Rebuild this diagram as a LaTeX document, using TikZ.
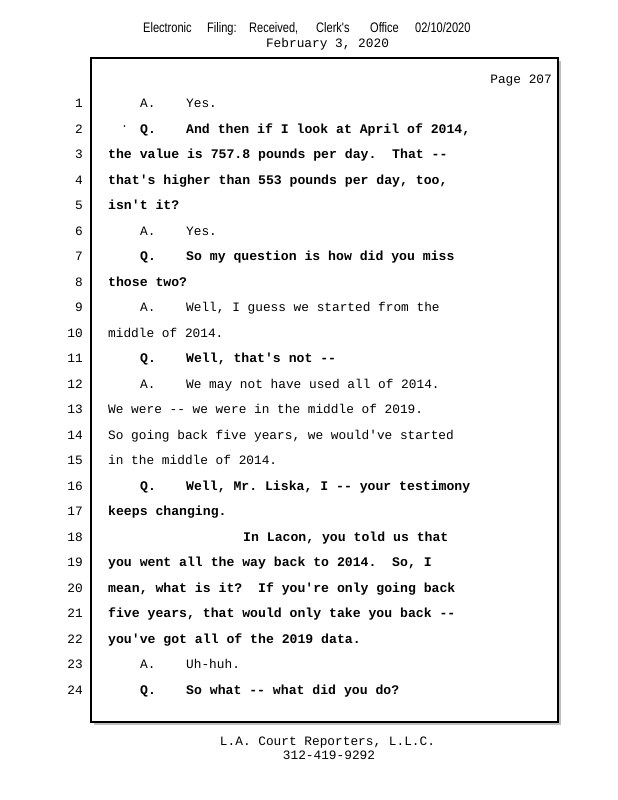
\documentclass[tikz,border=0pt]{standalone}
\usepackage{fontspec}
\setmonofont{Liberation Mono}
\newfontfamily\hdrfont[FakeStretch=0.8]{Liberation Sans}
\tikzset{
  reg/.style={font=\ttfamily\fontsize{12.8}{15}\selectfont, inner sep=0pt, anchor=base west},
  bld/.style={font=\ttfamily\bfseries\fontsize{13.15}{15}\selectfont, inner sep=0pt, anchor=base west},
  num/.style={font=\ttfamily\fontsize{12.8}{15}\selectfont, inner sep=0pt, anchor=base east},
  hdr/.style={font=\hdrfont\fontsize{13.8}{15}\selectfont, inner sep=0pt, anchor=base west},
}
\newcommand\lny[1]{{107.5+(#1-1)*25.52}}
\newcommand\tline[4]{\node[#3] (t#1x#2) at (#2,\lny{#1}) {#4};}
\begin{document}
\begin{tikzpicture}[x=1pt,y=-1pt]
\useasboundingbox (0,0) rectangle (618,800);
% header
\node[hdr] (h1) at (143,33) {Electronic};
\node[hdr] (h2) at (207,33) {Filing:};
\node[hdr] (h3) at (249,33) {Received,};
\node[hdr] (h4) at (316,33) {Clerk's};
\node[hdr] (h5) at (370,33) {Office};
\node[hdr] (h6) at (415,33) {02/10/2020};
\node[reg, anchor=base] (date) at (327.5,47.5) {February 3, 2020};
% box
\fill[black!25] (94,61) rectangle (561,725);
\draw[line width=1.3pt, fill=white] (91,58) rectangle (558,722);
\node[reg, anchor=base east] (page) at (552,83.5) {Page 207};
% line numbers
\foreach \n in {1,...,24} {\node[num] (n\n) at (83,\lny{\n}) {\n};}
% stray dot
\fill (124.5,126) circle (0.8);
% text
\tline{1}{140}{reg}{A.}
\tline{1}{186}{reg}{Yes.}
\tline{2}{140}{bld}{Q.}
\tline{2}{186}{bld}{And then if I look at April of 2014,}
\tline{3}{108}{bld}{the value is 757.8 pounds per day.\ \ That --}
\tline{4}{108}{bld}{that's higher than 553 pounds per day, too,}
\tline{5}{108}{bld}{isn't it?}
\tline{6}{140}{reg}{A.}
\tline{6}{186}{reg}{Yes.}
\tline{7}{140}{bld}{Q.}
\tline{7}{186}{bld}{So my question is how did you miss}
\tline{8}{108}{bld}{those two?}
\tline{9}{140}{reg}{A.}
\tline{9}{186}{reg}{Well, I guess we started from the}
\tline{10}{108}{reg}{middle of 2014.}
\tline{11}{140}{bld}{Q.}
\tline{11}{186}{bld}{Well, that's not --}
\tline{12}{140}{reg}{A.}
\tline{12}{186}{reg}{We may not have used all of 2014.}
\tline{13}{108}{reg}{We were -- we were in the middle of 2019.}
\tline{14}{108}{reg}{So going back five years, we would've started}
\tline{15}{108}{reg}{in the middle of 2014.}
\tline{16}{140}{bld}{Q.}
\tline{16}{186}{bld}{Well, Mr. Liska, I -- your testimony}
\tline{17}{108}{bld}{keeps changing.}
\tline{18}{243}{bld}{In Lacon, you told us that}
\tline{19}{108}{bld}{you went all the way back to 2014.\ \ So, I}
\tline{20}{108}{bld}{mean, what is it?\ \ If you're only going back}
\tline{21}{108}{bld}{five years, that would only take you back --}
\tline{22}{108}{bld}{you've got all of the 2019 data.}
\tline{23}{140}{reg}{A.}
\tline{23}{186}{reg}{Uh-huh.}
\tline{24}{140}{bld}{Q.}
\tline{24}{186}{bld}{So what -- what did you do?}
% footer
\node[reg, anchor=base] (f1) at (327.5,745.5) {L.A. Court Reporters, L.L.C.};
\node[reg, anchor=base] (f2) at (329,759.5) {312-419-9292};
\end{tikzpicture}
\end{document}
